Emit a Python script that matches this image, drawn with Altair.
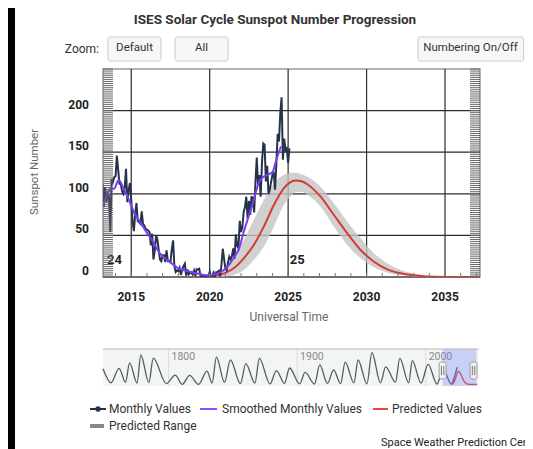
import altair as alt
import pandas as pd

FONT = "Roboto"
W, H = 377, 208

# ---------------- data ----------------
# observed monthly mean sunspot numbers (Jan..Dec)
monthly_2013 = [95, 60, 112, 84, 108, 90, 100, 96, 54, 118, 114, 120]
monthly_2014 = [121, 146, 129, 112, 112, 103, 100, 107, 130, 90, 104, 113]
monthly_2015 = [93, 67, 55, 75, 89, 67, 66, 64, 79, 64, 62, 58]
monthly_2016 = [57, 56, 54, 38, 52, 21, 32, 50, 45, 33, 21, 19]
monthly_2017 = [26, 26, 18, 32, 19, 19, 18, 33, 44, 13, 6, 8]
monthly_2018 = [7, 11, 2.5, 9, 13, 16, 1.6, 9, 3.3, 5, 5, 3]
monthly_2019 = [7.7, 0.8, 9.4, 9.1, 9.9, 1.2, 0.9, 0.5, 1.1, 0.4, 0.5, 1.5]
monthly_2020 = [6.2, 0.2, 1.5, 5.2, 0.2, 5.8, 6.1, 7.5, 0.6, 14.4, 34.0, 21.8]
monthly_2021 = [10.4, 8.2, 17.2, 24.5, 21.2, 25.0, 34.3, 22.0, 51.3, 37.4, 34.8, 67.5]
monthly_2022 = [54.0, 59.7, 78.5, 84.1, 96.5, 70.5, 91.4, 74.6, 96.0, 95.5, 77.6, 113.1]
monthly_2023 = [143.6, 110.9, 122.6, 96.4, 137.4, 160.5, 159.1, 114.8, 133.6, 99.4, 105.4, 114.2]
monthly_2024 = [123.0, 124.7, 104.9, 136.5, 172.1, 162.9, 196.5, 216.0, 141.1, 166.3, 152.5, 154.5]
monthly_2025 = [137.0, 154.6]
monthly_by_year = {
    2013: monthly_2013, 2014: monthly_2014, 2015: monthly_2015, 2016: monthly_2016,
    2017: monthly_2017, 2018: monthly_2018, 2019: monthly_2019, 2020: monthly_2020,
    2021: monthly_2021, 2022: monthly_2022, 2023: monthly_2023, 2024: monthly_2024,
    2025: monthly_2025,
}

# smoothed monthly values
smooth_years = [2013.2, 2013.45, 2013.66, 2013.9, 2014.2, 2014.5, 2014.8, 2015.2, 2015.6, 2016.0,
                2016.4, 2016.8, 2017.2, 2017.6, 2018.0, 2018.5, 2019.0, 2019.5, 2019.95, 2020.3,
                2020.7, 2021.0, 2021.5, 2021.9, 2022.2, 2022.5, 2022.8, 2023.1, 2023.4, 2023.7,
                2024.0, 2024.3, 2024.55]
smooth_values = [86, 98, 106, 106, 116.5, 107, 95, 77, 65, 53,
                 42, 29, 22, 16, 10.5, 7.5, 5, 3, 2, 3,
                 6, 10, 22, 36, 56, 74, 92, 112, 120, 123,
                 126, 144, 157]

# predicted values and predicted range
pred_years = [2019.92, 2020.5, 2021.0, 2021.53, 2022.17, 2022.81, 2023.45, 2024.09, 2024.72, 2025.1,
              2025.47, 2025.85, 2026.22, 2027.07, 2027.92, 2028.77, 2029.62, 2030.47, 2031.32, 2032.17,
              2033.24, 2034.3, 2036.0, 2040.0]
pred_values = [0.5, 2, 5, 10.5, 22.5, 38.5, 60.5, 86.5, 106.6, 113.5,
               116, 115, 111.5, 96.5, 74.5, 52.5, 32.5, 18.4, 9.2, 4.4,
               1.6, 0.4, 0, 0]
pred_low = [0, 0, 0.5, 2.4, 8.4, 20.4, 36.4, 60.5, 86.5, 96,
            101.8, 102.5, 99, 84.5, 60.5, 38.5, 22.5, 11.7, 5.2, 2.4,
            0.4, 0, 0, 0]
pred_high = [1, 4, 11, 22.5, 44.5, 68.5, 92.5, 112.6, 122.6, 125,
             125.4, 123.5, 120.5, 108.5, 88.6, 66.5, 46.5, 28.5, 16.5, 8.4,
             3.6, 1, 0.3, 0]

# navigator: long-term smoothed series (cycle minima / maxima)
nav_years = [1749.0, 1755.2, 1761.5, 1766.5, 1769.7, 1775.5, 1778.4, 1784.7, 1788.1, 1798.3,
             1805.2, 1810.6, 1816.4, 1823.3, 1829.9, 1833.9, 1837.2, 1843.5, 1848.1, 1855.9,
             1860.1, 1867.2, 1870.6, 1878.9, 1883.9, 1890.2, 1894.1, 1902.0, 1906.2, 1913.6,
             1917.6, 1923.6, 1928.4, 1933.8, 1937.4, 1944.2, 1947.4, 1954.3, 1958.2, 1964.8,
             1968.9, 1976.5, 1979.9, 1986.8, 1989.6, 1996.4, 2001.9, 2008.9, 2012.0, 2014.3,
             2019.9, 2022.5, 2024.5]
nav_values = [140, 14, 144, 19, 193, 12, 264, 16, 235, 7,
              82, 0, 81, 0.2, 119, 12, 245, 18, 220, 6,
              186, 10, 234, 4, 124, 8, 147, 4.5, 107, 2.5,
              176, 9, 130, 6, 199, 13, 219, 5, 285, 14,
              157, 18, 233, 13.5, 213, 11, 180, 2.2, 95, 116,
              1.8, 72, 155]
nav_grid_years = [1800, 1900, 2000]
zoom_range = [2013.2, 2037.23]

cycle_labels = ["24", "25"]
cycle_label_years = [2013.45, 2025.1]

x_ticks = [2015, 2020, 2025, 2030, 2035]
y_ticks = [0, 50, 100, 150, 200]
minor_years = list(range(2014, 2038))
hatch_values = [i * 2.5 for i in range(0, 101)]

# ---------------- frames ----------------
monthly_df = pd.DataFrame(
    [{"year": y + i / 12.0, "value": v} for y, vals in monthly_by_year.items() for i, v in enumerate(vals)]
)
smooth_df = pd.DataFrame({"year": smooth_years, "value": smooth_values})
pred_df = pd.DataFrame({"year": pred_years, "value": pred_values, "low": pred_low, "high": pred_high})
nav_df = pd.DataFrame({"year": nav_years, "value": nav_values})
navgrid_df = pd.DataFrame({"year": nav_grid_years, "label": [str(v) for v in nav_grid_years]})
sel_df = pd.DataFrame({"start": [zoom_range[0]], "end": [zoom_range[1]]})
handle_df = pd.DataFrame({"pos": zoom_range})
cycle_df = pd.DataFrame({"year": cycle_label_years, "label": cycle_labels})
minor_df = pd.DataFrame({"year": minor_years})
hatch_df = pd.DataFrame({"v": hatch_values})
xt_df = pd.DataFrame({"t": x_ticks, "label": [str(v) for v in x_ticks]})
yt_df = pd.DataFrame({"t": y_ticks, "label": [str(v) for v in y_ticks]})
dummy = pd.DataFrame({"k": [0]})

# ---------------- main plot ----------------
xs = alt.Scale(domain=[2013.2, 2037.23], nice=False, zero=False)
ys = alt.Scale(domain=[0, 250], nice=False, zero=False)

grid_x = alt.Chart(xt_df).mark_rule(color="#2c2c2c", strokeWidth=1.2).encode(
    x=alt.X("t:Q", scale=xs, axis=None), y=alt.value(0), y2=alt.value(H))
grid_y = alt.Chart(yt_df).mark_rule(color="#2c2c2c", strokeWidth=1.2).encode(
    y=alt.Y("t:Q", scale=ys, axis=None), x=alt.value(0), x2=alt.value(W))
xlab = alt.Chart(xt_df).mark_text(font=FONT, fontSize=12, fontWeight="bold", color="#222222",
                                  align="center", baseline="middle").encode(
    x=alt.X("t:Q", scale=xs, axis=None), y=alt.value(H + 20), text="label:N")
ylab = alt.Chart(yt_df).mark_text(font=FONT, fontSize=12, fontWeight="bold", color="#222222",
                                  align="right", baseline="middle", dy=-6).encode(
    y=alt.Y("t:Q", scale=ys, axis=None), x=alt.value(-14), text="label:N")

band = alt.Chart(pred_df).mark_area(color="#c4c4c4", opacity=0.8, clip=True,
                                    interpolate="monotone").encode(
    x=alt.X("year:Q", scale=xs, axis=None),
    y=alt.Y("low:Q", scale=ys, axis=None),
    y2="high:Q",
)
pred_line = alt.Chart(pred_df).mark_line(color="#d33c34", strokeWidth=2, clip=True,
                                         interpolate="monotone").encode(
    x=alt.X("year:Q", scale=xs, axis=None), y=alt.Y("value:Q", scale=ys, axis=None))
monthly_line = alt.Chart(monthly_df).mark_line(color="#25344a", strokeWidth=2, clip=True).encode(
    x=alt.X("year:Q", scale=xs, axis=None), y=alt.Y("value:Q", scale=ys, axis=None))
smooth_line = alt.Chart(smooth_df).mark_line(color="#7a3cf2", strokeWidth=2, clip=True,
                                             interpolate="monotone").encode(
    x=alt.X("year:Q", scale=xs, axis=None), y=alt.Y("value:Q", scale=ys, axis=None))
cycle_text = alt.Chart(cycle_df).mark_text(font=FONT, fontSize=13, fontWeight="bold", align="left",
                                           baseline="middle", color="#222222").encode(
    x=alt.X("year:Q", scale=xs, axis=None), y=alt.value(191), text="label:N")
hatch_left = alt.Chart(hatch_df).mark_rule(color="#666666", strokeWidth=1).encode(
    y=alt.Y("v:Q", scale=ys, axis=None), x=alt.value(0), x2=alt.value(10))
hatch_right = alt.Chart(hatch_df).mark_rule(color="#666666", strokeWidth=1).encode(
    y=alt.Y("v:Q", scale=ys, axis=None), x=alt.value(W - 10), x2=alt.value(W))
minor_ticks = alt.Chart(minor_df).mark_rule(color="#777777", strokeWidth=1).encode(
    x=alt.X("year:Q", scale=xs, axis=None), y=alt.value(H - 4), y2=alt.value(H))

main = alt.layer(grid_x, grid_y, band, pred_line, monthly_line, smooth_line, cycle_text,
                 hatch_left, hatch_right, minor_ticks, xlab, ylab)

# ---------------- navigator ----------------
NAV_TOP, NAV_BOT = 280, 317
nxs = alt.Scale(domain=[1749, 2041.1], range=[0, 375.5], nice=False, zero=False)
nys = alt.Scale(domain=[-15, 318], range=[NAV_BOT, NAV_TOP], nice=False, zero=False)


def box(x1, x2, y1, y2, fill, stroke=None, radius=0, opacity=1.0):
    kw = dict(fill=fill, opacity=opacity)
    if stroke:
        kw.update(stroke=stroke, strokeWidth=1)
    if radius:
        kw["cornerRadius"] = radius
    return alt.Chart(dummy).mark_rect(**kw).encode(
        x=alt.value(x1), x2=alt.value(x2), y=alt.value(y1), y2=alt.value(y2))


def label(text, x, y, size=12, weight="normal", color="#333333", align="left", angle=0):
    kw = dict(text=text, font=FONT, fontSize=size, fontWeight=weight, color=color,
              align=align, baseline="middle")
    if angle:
        kw["angle"] = angle
    return alt.Chart(dummy).mark_text(**kw).encode(x=alt.value(x), y=alt.value(y))


nav_bg = box(0, 375.5, NAV_TOP, NAV_BOT, "#f3f5f3")
nav_grid = alt.Chart(navgrid_df).mark_rule(color="#dddddd", strokeWidth=1).encode(
    x=alt.X("year:Q", scale=nxs, axis=None), y=alt.value(NAV_TOP), y2=alt.value(NAV_BOT))
nav_lbl = alt.Chart(navgrid_df).mark_text(font=FONT, fontSize=10.5, color="#888888", align="left",
                                          baseline="middle", dx=3).encode(
    x=alt.X("year:Q", scale=nxs, axis=None), y=alt.value(NAV_TOP + 8), text="label:N")
nav_line = alt.Chart(nav_df).mark_line(color="#525b68", strokeWidth=1.3, interpolate="monotone").encode(
    x=alt.X("year:Q", scale=nxs, axis=None), y=alt.Y("value:Q", scale=nys, axis=None))
nav_pred = alt.Chart(pred_df).mark_line(color="#e0453a", strokeWidth=1.3, interpolate="monotone").encode(
    x=alt.X("year:Q", scale=nxs, axis=None), y=alt.Y("value:Q", scale=nys, axis=None))
nav_sel = alt.Chart(sel_df).mark_rect(fill="#6e78ff", opacity=0.3, x2Offset=3).encode(
    x=alt.X("start:Q", scale=nxs, axis=None), x2="end:Q",
    y=alt.value(NAV_TOP), y2=alt.value(NAV_BOT))
nav_top = alt.Chart(dummy).mark_rule(color="#b5b5b5", strokeWidth=1).encode(
    x=alt.value(0), x2=alt.value(375.5), y=alt.value(NAV_TOP))
handles = alt.Chart(handle_df).mark_rect(fill="#f2f2f2", stroke="#999999", strokeWidth=1,
                                         cornerRadius=2, xOffset=-3.5, x2Offset=3.5).encode(
    x=alt.X("pos:Q", scale=nxs, axis=None), x2="pos:Q",
    y=alt.value(NAV_TOP + 13), y2=alt.value(NAV_TOP + 30))
handle_l1 = alt.Chart(handle_df).mark_rule(color="#777777", strokeWidth=1, xOffset=-1.2).encode(
    x=alt.X("pos:Q", scale=nxs, axis=None), y=alt.value(NAV_TOP + 17), y2=alt.value(NAV_TOP + 26))
handle_l2 = alt.Chart(handle_df).mark_rule(color="#777777", strokeWidth=1, xOffset=1.2).encode(
    x=alt.X("pos:Q", scale=nxs, axis=None), y=alt.value(NAV_TOP + 17), y2=alt.value(NAV_TOP + 26))

nav = alt.layer(nav_bg, nav_grid, nav_lbl, nav_line, nav_pred, nav_sel, nav_top,
                handles, handle_l1, handle_l2)

# ---------------- page decorations ----------------
BTN = "#f7f7f7"
BTN_S = "#cccccc"
LEG1, LEG2 = 340, 357
deco_layers = [
    box(-95, -88, -61, 380, "#000000"),
    label("ISES Solar Cycle Sunspot Number Progression", 172, -49, size=13.5, weight="bold",
          color="#333333", align="center"),
    label("Zoom:", -4, -20, size=12, align="right"),
    box(5, 58, -32, -8, BTN, BTN_S, 2),
    label("Default", 31.5, -21, size=11.5, align="center"),
    box(72, 125, -32, -8, BTN, BTN_S, 2),
    label("All", 98.5, -21, size=11.5, align="center"),
    box(315, 420.5, -32, -8, BTN, BTN_S, 2),
    label("Numbering On/Off", 367.5, -21, size=11.5, align="center"),
    label("Sunspot Number", -68, 103, size=11.5, color="#666666", align="center", angle=270),
    label("Universal Time", 186, 248, size=12, color="#666666", align="center"),
    # legend
    alt.Chart(dummy).mark_rule(color="#25344a", strokeWidth=2).encode(
        x=alt.value(-13), x2=alt.value(3), y=alt.value(LEG1)),
    alt.Chart(dummy).mark_circle(color="#25344a", opacity=1, size=28).encode(
        x=alt.value(-5), y=alt.value(LEG1)),
    label("Monthly Values", 6, LEG1, size=12),
    alt.Chart(dummy).mark_rule(color="#8a4dff", strokeWidth=2).encode(
        x=alt.value(97), x2=alt.value(114), y=alt.value(LEG1)),
    label("Smoothed Monthly Values", 119, LEG1, size=12),
    alt.Chart(dummy).mark_rule(color="#ee4444", strokeWidth=2).encode(
        x=alt.value(270), x2=alt.value(285), y=alt.value(LEG1)),
    label("Predicted Values", 289, LEG1, size=12),
    box(-13, 1, LEG2 - 2, LEG2 + 2, "#888888"),
    label("Predicted Range", 6, LEG2, size=12),
    label("Space Weather Prediction Center", 278, 374, size=11, color="#222222"),
]
deco = alt.layer(*deco_layers)

chart = alt.layer(main, nav, deco).resolve_scale(x="independent", y="independent").properties(
    width=W, height=H,
    autosize=alt.AutoSizeParams(type="none"),
    padding={"left": 95, "top": 61, "right": 45, "bottom": 172},
    background="white",
).configure_view(stroke="#9a9a9a", strokeWidth=1.5)

chart.save("out.html", embed_options={"renderer": "svg", "actions": False})
